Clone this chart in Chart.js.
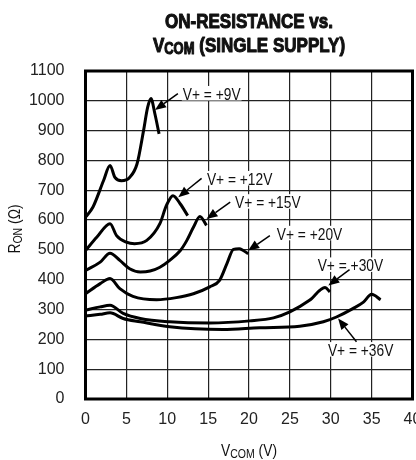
<!DOCTYPE html>
<html>
<head>
<meta charset="utf-8">
<script src="https://cdn.jsdelivr.net/npm/chart.js@4.4.1/dist/chart.umd.min.js"></script>
<style>
  html, body { margin: 0; padding: 0; background: #fff; }
</style>
</head>
<body>
<canvas id="chart" width="416" height="460"></canvas>
<script>
// Dados: VCOM (V) e RON (ohm) para cada V+
const vcom9 = [0, 0.9, 2.2, 3.0, 3.6, 4.4, 5.4, 6.3, 7.1, 7.6, 8.0, 8.5, 9.0];
const ron9 = [610, 643, 732, 783, 743, 732, 743, 788, 900, 978, 1008, 955, 889];

const vcom12 = [0, 1.4, 3.0, 3.8, 5.0, 6.0, 7.5, 9.1, 9.9, 10.7, 11.6, 12.5];
const ron12 = [498, 543, 588, 548, 526, 521, 532, 588, 649, 682, 654, 615];

const vcom15 = [0, 1.8, 3.0, 4.2, 5.4, 6.7, 7.9, 9.1, 10.3, 11.6, 12.4, 13.2, 14.0, 14.8];
const ron15 = [431, 459, 489, 465, 437, 426, 429, 442, 465, 498, 532, 576, 612, 582];

const vcom20 = [0, 1.8, 3.0, 4.2, 5.8, 8.7, 11.1, 13.2, 15.2, 16.4, 17.3, 18.1, 18.8, 19.3, 19.9];
const ron20 = [353, 387, 404, 370, 344, 333, 340, 353, 376, 398, 454, 502, 504, 498, 487];

const vcom30 = [0, 1.8, 3.0, 4.6, 6.7, 10.3, 15.2, 20.1, 23.0, 25.0, 27.4, 29.3, 29.9];
const ron30 = [298, 309, 314, 287, 270, 259, 255, 262, 272, 292, 331, 374, 359];

const vcom36 = [0, 1.8, 3.0, 4.6, 6.7, 10.3, 16.8, 21.3, 26.2, 29.1, 30.7, 32.7, 34.0, 35.0, 36.1];
const ron36 = [278, 284, 289, 270, 259, 242, 233, 239, 244, 259, 275, 303, 325, 351, 333];

// Rótulos das curvas (texto, posição do texto, cauda e ponta da seta)
const labelText = ['V+ = +9V', 'V+ = +12V', 'V+ = +15V', 'V+ = +20V', 'V+ = +30V', 'V+ = +36V'];
const labelX = [11.9, 14.85, 18.3, 23.4, 28.4, 29.65];
const labelY = [1023, 738, 660, 554, 448, 164];
const tailX = [11.3, 14.2, 17.7, 22.55, 32.3, 33.15];
const tailY = [1024, 740, 660, 548, 434, 192];
const tipX = [8.5, 11.35, 14.8, 19.9, 29.7, 30.9];
const tipY = [969, 677, 604, 498, 381, 270];

const FONT = '"Liberation Sans", Arial, sans-serif';
const SQUEEZE = 0.81; // fonte condensada simulada

function pts(xs, ys) {
  return xs.map((x, i) => ({ x: x, y: ys[i] }));
}

const series = [
  [vcom9, ron9], [vcom12, ron12], [vcom15, ron15],
  [vcom20, ron20], [vcom30, ron30], [vcom36, ron36]
];

const datasets = series.map((s, i) => ({
  label: labelText[i],
  data: pts(s[0], s[1]),
  borderColor: '#000',
  borderWidth: 3,
  pointRadius: 0,
  cubicInterpolationMode: 'monotone',
  fill: false
}));

function partsWidth(ctx, parts) {
  let w = 0;
  parts.forEach(p => {
    ctx.font = (p.bold ? 'bold ' : '') + p.size + 'px ' + FONT;
    w += ctx.measureText(p.t).width;
  });
  return w * SQUEEZE;
}

// texto com subscrito: partes [{t, size, bold, dy}], align 'center' ou 'left'
function drawParts(ctx, parts, x, y, align, heavy) {
  const w = partsWidth(ctx, parts) / SQUEEZE;
  ctx.save();
  ctx.translate(x, y);
  ctx.scale(SQUEEZE, 1);
  let cx = align === 'left' ? 0 : -w / 2;
  ctx.textAlign = 'left';
  ctx.strokeStyle = ctx.fillStyle;
  ctx.lineWidth = 1.1;
  ctx.lineJoin = 'round';
  parts.forEach(p => {
    ctx.font = (p.bold ? 'bold ' : '') + p.size + 'px ' + FONT;
    ctx.fillText(p.t, cx, p.dy || 0);
    if (heavy) ctx.strokeText(p.t, cx, p.dy || 0);
    cx += ctx.measureText(p.t).width;
  });
  ctx.restore();
}

const decor = {
  id: 'decor',
  afterDraw(chart) {
    const ctx = chart.ctx;
    const a = chart.chartArea;
    const xs = chart.scales.x;
    const ys = chart.scales.y;
    const mid = (a.left + a.right) / 2;
    ctx.save();
    ctx.fillStyle = '#111';
    ctx.textBaseline = 'alphabetic';

    // título
    drawParts(ctx, [{ t: 'ON-RESISTANCE vs.', size: 21, bold: true }], mid, 28, 'center', true);
    drawParts(ctx, [
      { t: 'V', size: 21, bold: true },
      { t: 'COM', size: 16, bold: true, dy: 2 },
      { t: ' (SINGLE SUPPLY)', size: 21, bold: true }
    ], mid, 52, 'center', true);

    // títulos dos eixos
    drawParts(ctx, [
      { t: 'V', size: 17 },
      { t: 'COM', size: 13, dy: 2 },
      { t: ' (V)', size: 17 }
    ], mid, 456);
    ctx.save();
    ctx.translate(20, 229);
    ctx.rotate(-Math.PI / 2);
    drawParts(ctx, [
      { t: 'R', size: 17 },
      { t: 'ON', size: 13, dy: 2 },
      { t: ' (\u03A9)', size: 17 }
    ], 0, 0);
    ctx.restore();

    // moldura
    ctx.strokeStyle = '#000';
    ctx.lineWidth = 3;
    ctx.strokeRect(a.left, a.top, a.right - a.left, a.bottom - a.top);

    // rótulos (fundo branco sobre a grade) com setas
    for (let i = 0; i < labelText.length; i++) {
      const part = [{ t: labelText[i], size: 17 }];
      const tx = xs.getPixelForValue(labelX[i]);
      const ty = ys.getPixelForValue(labelY[i]) + 6;
      ctx.fillStyle = '#fff';
      ctx.fillRect(tx - 1, ty - 14, partsWidth(ctx, part) + 2, 14.5);
      ctx.fillStyle = '#111';
      drawParts(ctx, part, tx, ty, 'left');
      const x0 = xs.getPixelForValue(tailX[i]), y0 = ys.getPixelForValue(tailY[i]);
      const x1 = xs.getPixelForValue(tipX[i]), y1 = ys.getPixelForValue(tipY[i]);
      const ang = Math.atan2(y1 - y0, x1 - x0);
      const hl = 11, hw = 4.5;
      const bx = x1 - hl * Math.cos(ang), by = y1 - hl * Math.sin(ang);
      ctx.strokeStyle = '#000';
      ctx.lineWidth = 1.5;
      ctx.beginPath();
      ctx.moveTo(x0, y0);
      ctx.lineTo(bx, by);
      ctx.stroke();
      ctx.fillStyle = '#000';
      ctx.beginPath();
      ctx.moveTo(x1, y1);
      ctx.lineTo(bx + hw * Math.sin(ang), by - hw * Math.cos(ang));
      ctx.lineTo(bx - hw * Math.sin(ang), by + hw * Math.cos(ang));
      ctx.closePath();
      ctx.fill();
    }
    ctx.restore();
  }
};

const chart = new Chart(document.getElementById('chart'), {
  type: 'line',
  data: { datasets: datasets },
  options: {
    responsive: false,
    animation: false,
    devicePixelRatio: 1,
    layout: { padding: { top: 71, right: 3.5, left: 0, bottom: 0 } },
    plugins: {
      legend: { display: false },
      tooltip: { enabled: false }
    },
    scales: {
      x: {
        type: 'linear',
        min: 0,
        max: 40,
        ticks: {
          stepSize: 5, color: '#222', padding: 11,
          font: { family: FONT, size: 16 },
          callback: v => String(v)
        },
        grid: { color: '#222', lineWidth: 1.2, drawTicks: false },
        border: { display: false },
        afterFit(s) { s.height = 61; s.paddingLeft = 0; s.paddingRight = 0; }
      },
      y: {
        min: 0,
        max: 1100,
        ticks: {
          stepSize: 100, color: '#222', padding: 21,
          font: { family: FONT, size: 16 },
          callback: v => String(v)
        },
        grid: { color: '#222', lineWidth: 1.2, drawTicks: false },
        border: { display: false },
        afterFit(s) { s.width = 85.5; s.paddingTop = 0; s.paddingBottom = 0; }
      }
    }
  },
  plugins: [decor]
});
</script>
</body>
</html>
